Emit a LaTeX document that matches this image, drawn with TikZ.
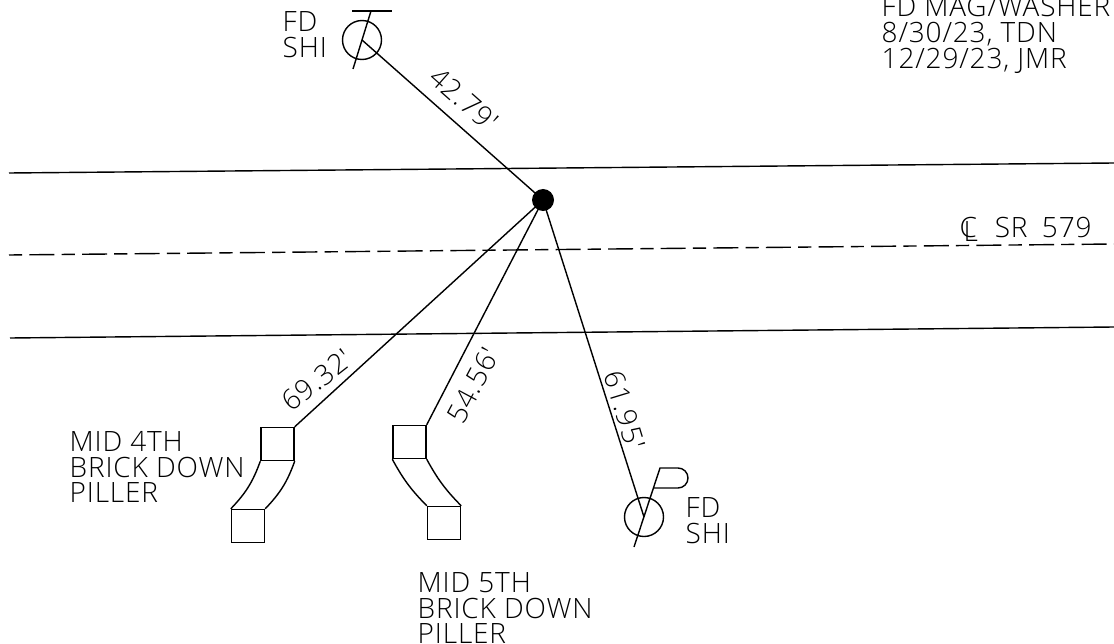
\documentclass[tikz,border=0pt]{standalone}
\usepackage{fontspec}
\newfontfamily\cadfont[UprightFont=* Light,LetterSpace=3]{Open Sans}
\tikzset{
  lbl/.style={font=\cadfont\fontsize{19.9pt}{18.2pt}\selectfont,align=left,inner sep=0pt,text depth=0pt},
  mark circle/.style={circle,draw,minimum size=0.975cm,inner sep=0pt},
  pillar/.style={rectangle,draw,minimum size=0.825cm,inner sep=0pt},
}
\newcommand{\clsym}{\rlap{C}\kern0.1cm\raisebox{-0.1cm}{L}}
\begin{document}
\begin{tikzpicture}[x=0.025cm,y=-0.025cm,line width=1pt]
\useasboundingbox (0,0) rectangle (1114,644);
\path
(543,200) node[circle,fill=black,minimum size=0.55cm,inner sep=0pt](hub) {}
(362,40) node[mark circle](shitop) {}
(644,517) node[mark circle](shibot) {}
(277.5,444) node[pillar](p4top) {}
(248,526) node[pillar](p4bot) {}
(409.5,442) node[pillar](p5top) {}
(444,523) node[pillar](p5bot) {}
(9,173) coordinate(ru1) (1114,163) coordinate(ru2)
(9,255) coordinate(cl1) (1114,244) coordinate(cl2)
(10,338) coordinate(rl1) (1114,327) coordinate(rl2)
(352,11) coordinate(tk1) (392,11) coordinate(tk2)
(371,11) coordinate(sl1) (353,69) coordinate(sl2)
(660,468) coordinate(fl1) (634,547) coordinate(fl2)
(678,468) coordinate(fl3) (678,488) coordinate(fl4) (654,488) coordinate(fl5);

\draw (ru1) -- (ru2);
\draw (rl1) -- (rl2);
\draw[dash pattern=on 0.625cm off 0.18cm on 0.33cm off 0.18cm,dash phase=0.805cm] (cl1) -- (cl2);

\draw (hub.center) -- (shitop.center);
\draw (hub.center) -- (shibot.center);
\draw (hub.center) -- (p4top.north east);
\draw (hub.center) -- (p5top.north east);

\draw (tk1) -- (tk2);
\draw (sl1) -- (sl2);
\draw (fl2) -- (fl1) -- (fl3) arc[start angle=-90,end angle=90,radius=10] -- (fl5);

\draw (p4top.south west) to[bend left=12] (p4bot.north west);
\draw (p4top.south east) to[bend left=12] (p4bot.north east);
\draw (p5top.south west) to[bend right=8] (p5bot.north west);
\draw (p5top.south east) to[bend right=8] (p5bot.north east);

\path
(282,11) node[lbl,anchor=north west](fdtop) {FD\\SHI}
(881,-4) node[lbl,anchor=north west](notes) {FD MAG/WASHER\\8/30/23, TDN\\12/29/23, JMR}
(69,431) node[lbl,anchor=north west](mid4) {MID 4TH\\BRICK DOWN\\PILLER}
(417,572) node[lbl,anchor=north west](mid5) {MID 5TH\\BRICK DOWN\\PILLER}
(685,497) node[lbl,anchor=north west](fdbot) {FD\\SHI}
(959,217) node[lbl,anchor=north west](clabel) {\clsym\hspace{0.42cm}SR\hspace{0.36cm}579}
(464,99) node[lbl,rotate=-41.5](d1) {42.79'}
(317,380) node[lbl,rotate=38](d2) {69.32'}
(473,385) node[lbl,rotate=62](d3) {54.56'}
(625,410) node[lbl,rotate=-73](d4) {61.95'};
\end{tikzpicture}
\end{document}
